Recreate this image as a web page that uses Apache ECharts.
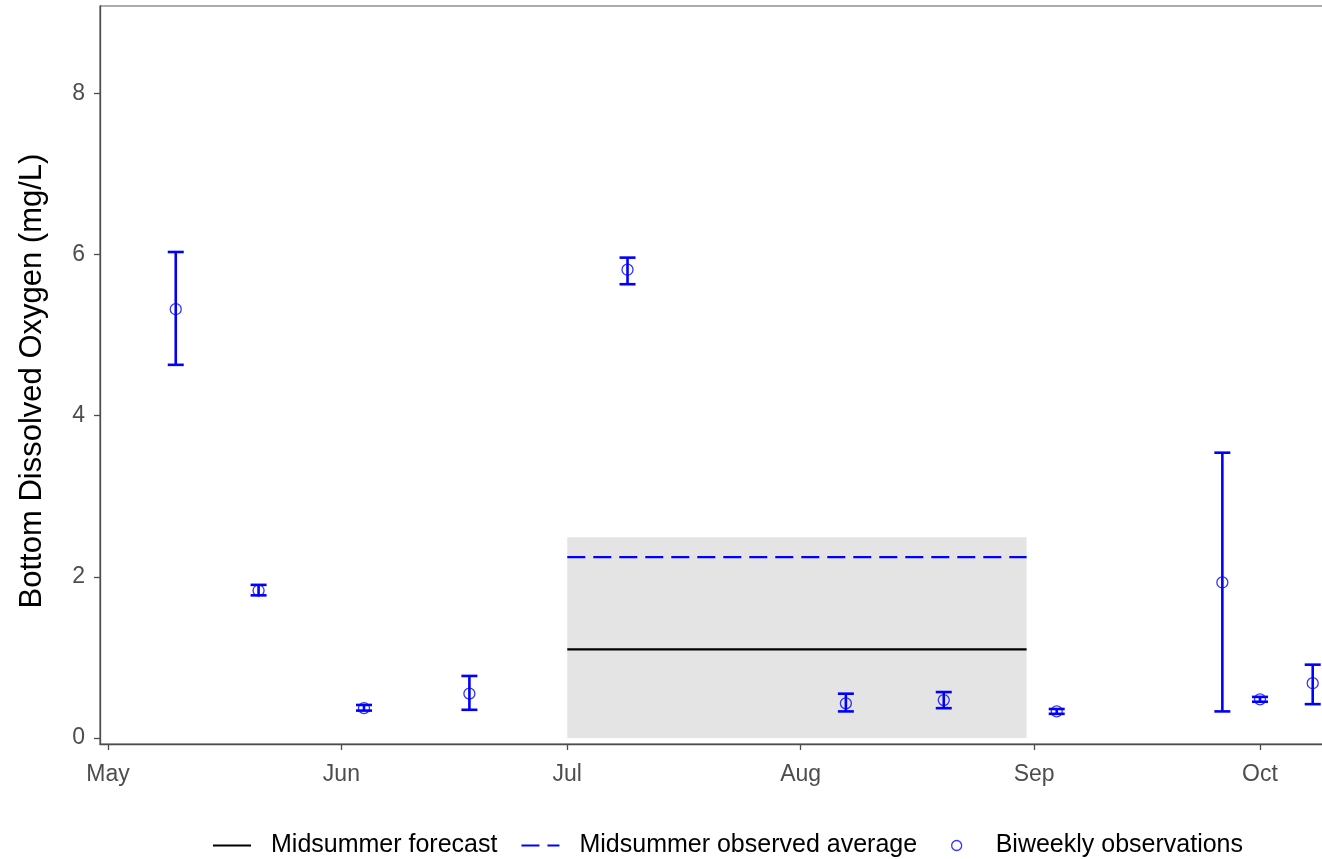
<!DOCTYPE html>
<html>
<head>
<meta charset="utf-8">
<script src="https://cdn.jsdelivr.net/npm/echarts@6/dist/echarts.min.js"></script>
<style>
html,body{margin:0;padding:0;background:#fff;}
#chart{width:1322px;height:859px;}
</style>
</head>
<body>
<div id="chart"></div>
<script>
// ---------------- data ----------------
const year = 2021;
const obsDates = ['05-10','05-21','06-04','06-18','07-09','08-07','08-20','09-04','09-26','10-01','10-08'];
const obsMean  = [5.32, 1.83, 0.37, 0.55, 5.81, 0.43, 0.47, 0.33, 1.93, 0.48, 0.68];
const obsLow   = [4.63, 1.77, 0.34, 0.35, 5.63, 0.33, 0.37, 0.30, 0.33, 0.45, 0.42];
const obsHigh  = [6.03, 1.90, 0.41, 0.77, 5.96, 0.55, 0.57, 0.36, 3.54, 0.51, 0.91];

const midStart = '07-01';
const midEnd   = '08-31';
const forecastValue = 1.10;
const observedAvgValue = 2.245;
const bandLow  = 0;
const bandHigh = 2.49;

const monthTicks  = ['05-01','06-01','07-01','08-01','09-01','10-01'];
const monthLabels = ['May','Jun','Jul','Aug','Sep','Oct'];
const yTicks = [0, 2, 4, 6, 8];

const seriesNames = ['Midsummer forecast', 'Midsummer observed average', 'Biweekly observations'];

// ---------------- helpers ----------------
const DAY = 86400000;
function ts(md) { const [m, d] = md.split('-').map(Number); return new Date(year, m - 1, d).getTime(); }

const xMin = ts('05-01') - 1.06 * DAY;
const xMax = ts('10-01') + 8.5 * DAY;

const tickTs = monthTicks.map(ts);
const obsPoints = obsDates.map((d, i) => [ts(d), obsMean[i]]);
const errData = obsDates.map((d, i) => [ts(d), obsLow[i], obsHigh[i]]);

const FONT = '"Liberation Sans", Arial, sans-serif';
const BLUE = '#0000ff';

const legendCommon = {
  top: 828,
  itemWidth: 38,
  itemHeight: 10,
  itemGap: 23,
  textStyle: {color: '#000', fontSize: 25, fontFamily: FONT, padding: [0, 0, 0, 15]}
};

const chart = echarts.init(document.getElementById('chart'), null, {renderer: 'canvas'});
chart.setOption({
  animation: false,
  backgroundColor: '#ffffff',
  textStyle: {fontFamily: FONT},
  grid: {
    left: 100, top: 6, width: 1224, height: 738,
    outerBoundsMode: 'none',
    containLabel: false,
    show: true, borderColor: '#5a5a5a', borderWidth: 1.2, backgroundColor: 'transparent'
  },
  xAxis: {
    type: 'value',
    min: xMin, max: xMax,
    splitLine: {show: false},
    axisLine: {show: true, onZero: false, lineStyle: {color: '#4d4d4d', width: 1.3}},
    axisTick: {show: true, length: 6, lineStyle: {color: '#4d4d4d', width: 1.3}, customValues: tickTs},
    axisLabel: {
      customValues: tickTs,
      color: '#4d4d4d', fontSize: 23, fontFamily: FONT, margin: 19,
      formatter: v => { const i = tickTs.findIndex(t => Math.abs(t - v) < DAY / 2); return i >= 0 ? monthLabels[i] : ''; }
    }
  },
  yAxis: {
    type: 'value',
    min: -0.0744, max: 9.082,
    splitLine: {show: false},
    axisLine: {show: true, onZero: false, lineStyle: {color: '#4d4d4d', width: 1.3}},
    axisTick: {show: true, length: 6, lineStyle: {color: '#4d4d4d', width: 1.3}, customValues: yTicks},
    axisLabel: {customValues: yTicks, color: '#4d4d4d', fontSize: 23, fontFamily: FONT, margin: 15},
    name: 'Bottom Dissolved Oxygen (mg/L)',
    nameLocation: 'middle',
    nameGap: 52,
    nameTextStyle: {color: '#000', fontSize: 31, fontFamily: FONT, padding: [0, 12, 0, 0]}
  },
  legend: [
    Object.assign({}, legendCommon, {
      left: 207,
      data: [
        {name: seriesNames[0], itemStyle: {opacity: 0}},
        {name: seriesNames[1], itemStyle: {opacity: 0}}
      ]
    }),
    Object.assign({}, legendCommon, {
      left: 946,
      data: [
        {name: seriesNames[2], icon: 'circle', itemStyle: {color: 'rgba(0,0,0,0)', borderColor: BLUE, borderWidth: 1.3}}
      ]
    })
  ],
  series: [
    {
      name: seriesNames[0],
      type: 'line',
      data: [[ts(midStart), forecastValue], [ts(midEnd), forecastValue]],
      showSymbol: false, symbol: 'none',
      lineStyle: {color: '#000', width: 2.2, type: 'solid'},
      itemStyle: {color: '#000'},
      z: 3,
      markArea: {
        silent: true,
        itemStyle: {color: '#e4e4e4'},
        data: [[{xAxis: ts(midStart), yAxis: bandLow}, {xAxis: ts(midEnd), yAxis: bandHigh}]],
        z: 1
      }
    },
    {
      name: seriesNames[1],
      type: 'line',
      data: [[ts(midStart), observedAvgValue], [ts(midEnd), observedAvgValue]],
      showSymbol: false, symbol: 'none',
      lineStyle: {color: BLUE, width: 2.2, type: [18, 8]},
      itemStyle: {color: BLUE},
      z: 3
    },
    {
      name: 'errorbars',
      type: 'custom',
      data: errData,
      z: 4,
      silent: true,
      renderItem: function (params, api) {
        const x = api.value(0);
        const lo = api.coord([x, api.value(1)]);
        const hi = api.coord([x, api.value(2)]);
        const hw = 8;
        const style = {stroke: BLUE, lineWidth: 2.6};
        return {
          type: 'group',
          children: [
            {type: 'line', shape: {x1: lo[0], y1: lo[1], x2: hi[0], y2: hi[1]}, style},
            {type: 'line', shape: {x1: lo[0] - hw, y1: lo[1], x2: lo[0] + hw, y2: lo[1]}, style},
            {type: 'line', shape: {x1: hi[0] - hw, y1: hi[1], x2: hi[0] + hw, y2: hi[1]}, style}
          ]
        };
      }
    },
    {
      name: seriesNames[2],
      type: 'scatter',
      data: obsPoints,
      symbol: 'circle',
      symbolSize: 11,
      itemStyle: {color: 'rgba(0,0,0,0)', borderColor: BLUE, borderWidth: 1.3},
      z: 5
    }
  ]
});
</script>
</body>
</html>
